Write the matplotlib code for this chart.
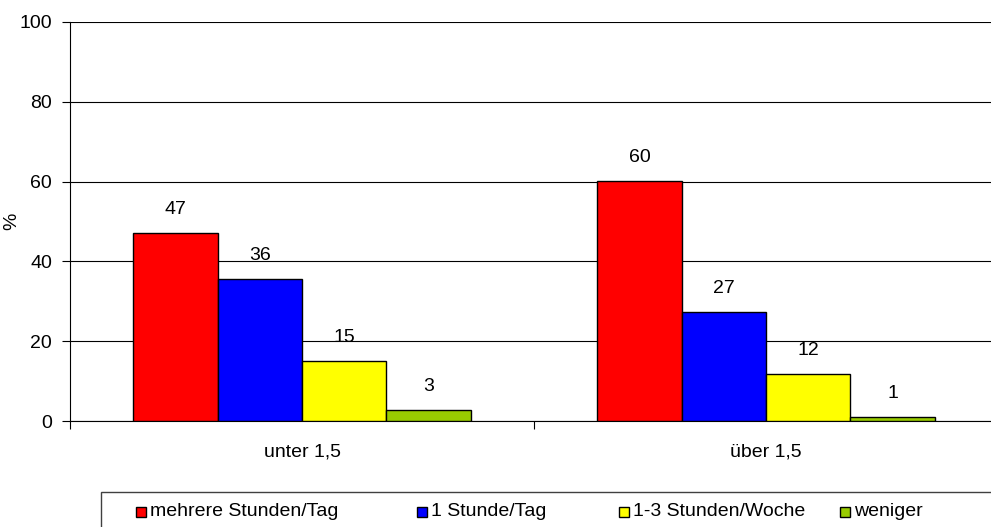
import matplotlib.pyplot as plt
import numpy as np
from matplotlib.patches import Rectangle

plt.rcParams['font.family'] = ['Liberation Sans', 'DejaVu Sans']

groups = ['unter 1,5', 'über 1,5']
series = ['mehrere Stunden/Tag', '1 Stunde/Tag', '1-3 Stunden/Woche', 'weniger']
colors = ['#FF0000', '#0000FF', '#FFFF00', '#99CC00']
values = [
    [47.1, 60.2],
    [35.6, 27.3],
    [15.0, 11.8],
    [2.8, 1.0],
]
labels = [
    [47, 60],
    [36, 27],
    [15, 12],
    [3, 1],
]

fs = 14
fig = plt.figure(figsize=(9.91, 5.27), dpi=100)
ax = fig.add_axes([70 / 991, 106 / 527, 928 / 991, 399 / 527])

x = np.arange(len(groups))
w = 1 / 5.5
for i, (vals, labs) in enumerate(zip(values, labels)):
    pos = x + (i - 1.5) * w
    ax.bar(pos, vals, width=w, color=colors[i], edgecolor='black', linewidth=1, zorder=3)
    for px, v, lab in zip(pos, vals, labs):
        ax.annotate(str(lab), (px, v), xytext=(0, 11), textcoords='offset points',
                    ha='center', va='bottom', fontsize=fs)

ax.set_xlim(-0.5, 1.5)
ax.set_ylim(0, 100)
ax.set_yticks(range(0, 101, 20))
ax.yaxis.grid(True, color='black', linewidth=0.8, zorder=0)
ax.set_xticks([-0.5, 0.5, 1.5])
ax.set_xticklabels([])
ax.set_xticks(x, minor=True)
ax.set_xticklabels(groups, minor=True, fontsize=fs)
ax.tick_params(axis='x', which='major', length=6, direction='out', color='black')
ax.tick_params(axis='x', which='minor', length=0, pad=16)
ax.tick_params(axis='y', length=6, direction='out', labelsize=fs, pad=7)
ax.spines['top'].set_visible(False)
ax.spines['right'].set_visible(False)
ax.spines['left'].set_color('black')
ax.spines['bottom'].set_color('black')
ax.set_ylabel('%', fontsize=fs)
ax.yaxis.set_label_coords(-50 / 928, 0.5)

# legend box
fig.patches.append(Rectangle((101 / 991, -0.1), 0.95, (527 - 492) / 527 + 0.1,
                             transform=fig.transFigure, facecolor='white',
                             edgecolor='#404040', linewidth=1))
marker_x = [141, 422, 624, 845]
ly = (527 - 512) / 527
for mx, name, c in zip(marker_x, series, colors):
    fig.patches.append(Rectangle(((mx - 5) / 991, ly - 5 / 527), 10 / 991, 10 / 527,
                                 transform=fig.transFigure, facecolor=c,
                                 edgecolor='black', linewidth=1))
    fig.text((mx + 9) / 991, ly, name, fontsize=fs, va='center', ha='left')

fig.savefig('out.png', dpi=100)
